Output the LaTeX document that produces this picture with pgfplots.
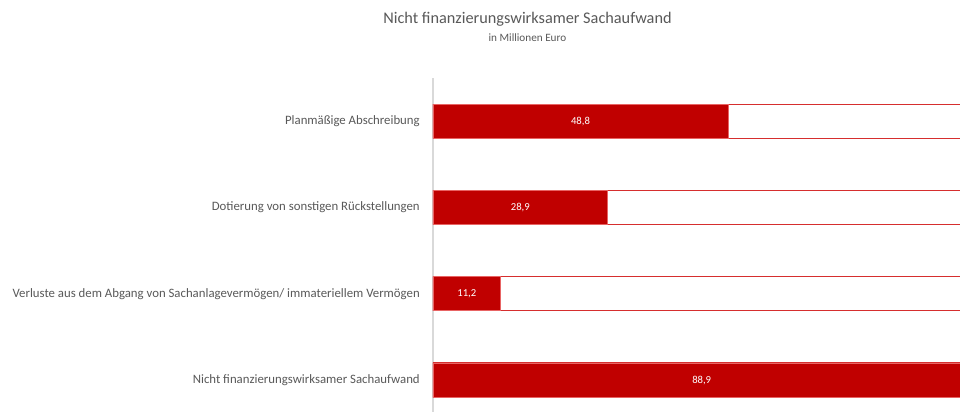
\documentclass[border=0pt]{standalone}
\usepackage{fontspec}
\setmainfont{Carlito}
\usepackage{pgfplots}
\pgfplotsset{compat=1.18}
\definecolor{barred}{RGB}{192,0,0}
\definecolor{edgered}{RGB}{214,46,46}
\definecolor{edgelight}{RGB}{232,100,100}
\definecolor{txtgray}{RGB}{89,89,89}
\definecolor{axgray}{RGB}{217,217,217}
\begin{document}
\begin{tikzpicture}
\path[use as bounding box, fill=white] (0,0) rectangle (720pt,309pt);
\node[font=\fontsize{12.2}{14}\selectfont, text=txtgray] at (395.6pt,294.5pt) {Nicht finanzierungswirksamer Sachaufwand};
\node[font=\fontsize{8.4}{10}\selectfont, text=txtgray] at (395.6pt,280.5pt) {in Millionen Euro};
\begin{axis}[
 at={(324.75pt,0pt)}, anchor=south west,
 scale only axis, width=403.5pt, height=250.5pt,
 xmin=0, xmax=89, ymin=-0.5, ymax=3.37, y dir=reverse,
 xbar, bar width=25.5pt, bar shift=0pt,
 axis x line=none, axis y line=left,
 y axis line style={-, draw=axgray, line width=1.2pt},
 ytick={0,1,2,3}, major tick length=0pt,
 yticklabels={Planmäßige Abschreibung, Dotierung von sonstigen Rückstellungen, Verluste aus dem Abgang von Sachanlagevermögen/ immateriellem Vermögen, Nicht finanzierungswirksamer Sachaufwand},
 yticklabel style={font=\fontsize{9.6}{11}\selectfont, text=txtgray, inner sep=0pt, xshift=-9.75pt},
]
\addplot[fill=white, draw=edgered, line width=0.9pt] coordinates {(88.9,0) (88.9,1) (88.9,2) (88.9,3)};
\addplot[fill=barred, draw=edgelight, line width=0.6pt,
  visualization depends on={0.5*x \as \halfx},
  point meta=x,
  nodes near coords={\pgfmathprintnumber[use comma,fixed,fixed zerofill,precision=1,assume math mode=true]{\pgfplotspointmeta}},
  nodes near coords style={font=\fontsize{8}{9}\selectfont, text=white, anchor=center, shift={(axis direction cs:-\halfx,0)}}]
  coordinates {(48.8,0) (28.9,1) (11.2,2) (88.9,3)};
\end{axis}
\end{tikzpicture}
\end{document}
